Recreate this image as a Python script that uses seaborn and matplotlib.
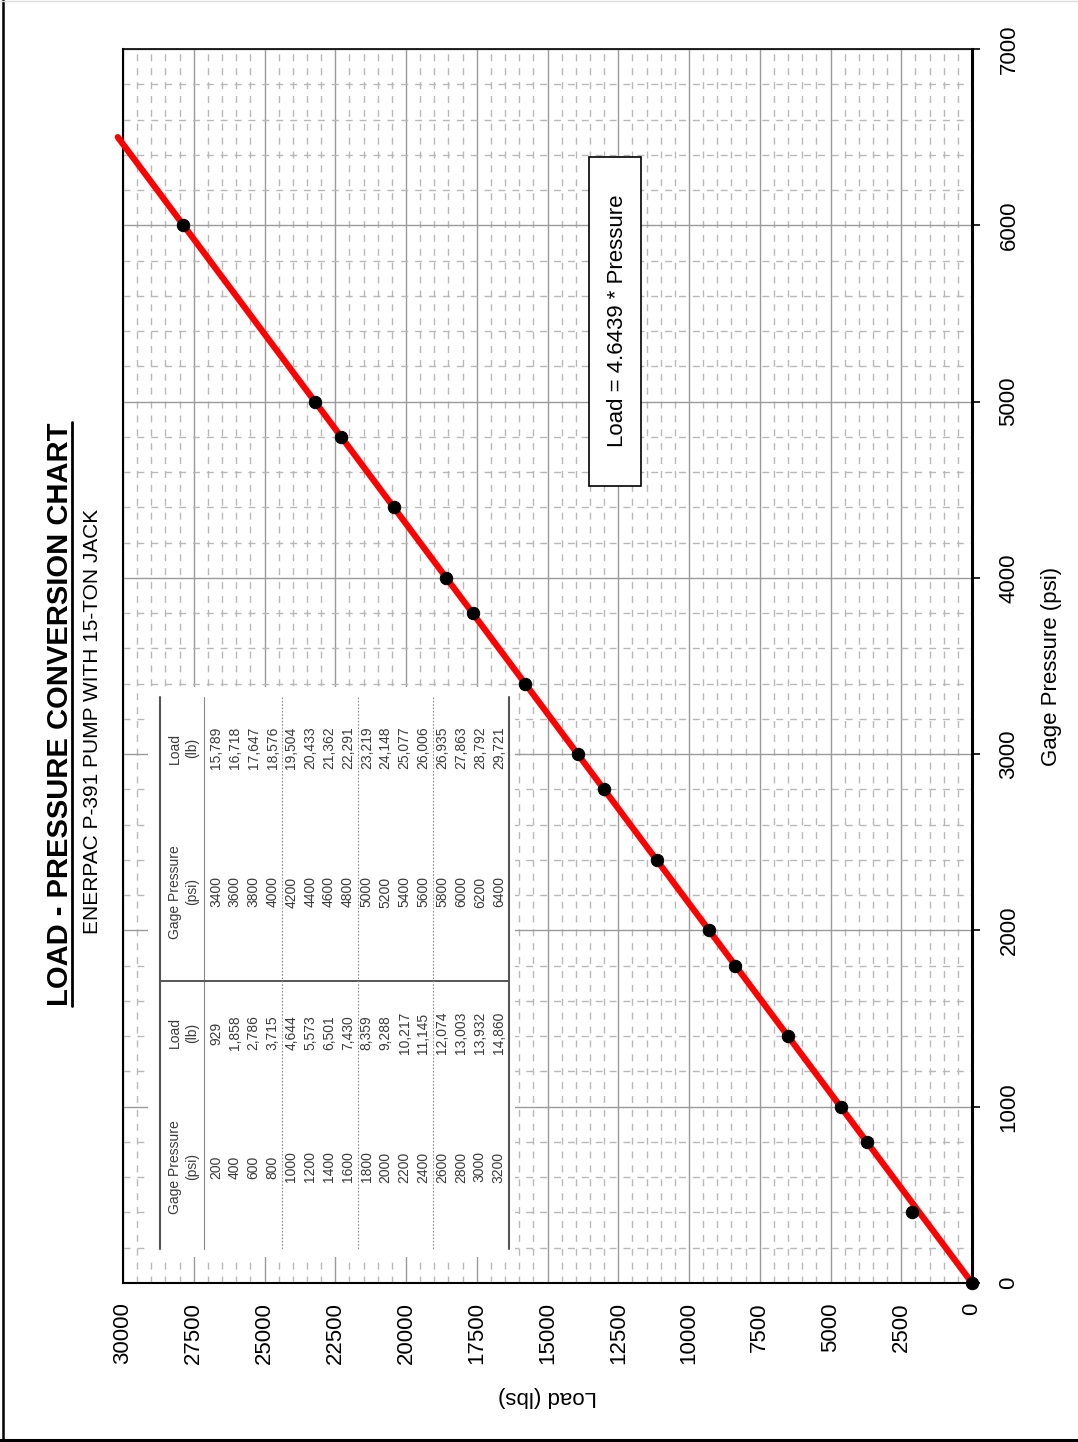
import matplotlib
matplotlib.use("Agg")
import matplotlib.pyplot as plt
import seaborn as sns
from matplotlib.lines import Line2D
from matplotlib.patches import Rectangle
from matplotlib.ticker import MultipleLocator

# measured points (gage pressure psi -> load lb)
pressure = [0, 400, 800, 1000, 1400, 1800, 2000, 2400, 2800, 3000,
            3400, 3800, 4000, 4400, 4800, 5000, 6000]
load = [0, 2120, 3715, 4644, 6501, 8359, 9288, 11145, 13003, 13932,
        15789, 17647, 18576, 20433, 22291, 23219, 27863]

# fit line: Load = 4.6439 * Pressure
slope = 4.6439
fit_pressure = [0, 6500]

# conversion table
table_p1 = ["200", "400", "600", "800", "1000", "1200", "1400", "1600",
            "1800", "2000", "2200", "2400", "2600", "2800", "3000", "3200"]
table_l1 = ["929", "1,858", "2,786", "3,715", "4,644", "5,573", "6,501", "7,430",
            "8,359", "9,288", "10,217", "11,145", "12,074", "13,003", "13,932", "14,860"]
table_p2 = ["3400", "3600", "3800", "4000", "4200", "4400", "4600", "4800",
            "5000", "5200", "5400", "5600", "5800", "6000", "6200", "6400"]
table_l2 = ["15,789", "16,718", "17,647", "18,576", "19,504", "20,433", "21,362", "22,291",
            "23,219", "24,148", "25,077", "26,006", "26,935", "27,863", "28,792", "29,721"]

W, H = 1078, 1442

sns.set_theme(style="white", rc={"text.color": "black", "axes.labelcolor": "black",
                                 "xtick.color": "black", "ytick.color": "black",
                                 "axes.edgecolor": "black"})
plt.rcParams["font.family"] = ["Liberation Sans", "DejaVu Sans"]

fig = plt.figure(figsize=(W / 100, H / 100), dpi=100)


def fx(x):
    return x / W


def fy(y):
    return 1 - y / H


# the chart is laid out turned on its side: load runs right-to-left, pressure upward
ax = fig.add_axes([fx(123), fy(1283), (972 - 123) / W, (1283 - 49) / H])

fit_load = [slope * p for p in fit_pressure]
sns.lineplot(x=fit_load, y=fit_pressure, color="#ff0000", lw=4.5, sort=False,
             clip_on=False, zorder=3, ax=ax)
sns.scatterplot(x=load, y=pressure, color="black", edgecolor="black", s=80,
                clip_on=False, zorder=4, ax=ax)

ax.set_xlim(30000, 0)
ax.set_ylim(0, 7000)
ax.xaxis.set_major_locator(MultipleLocator(2500))
ax.xaxis.set_minor_locator(MultipleLocator(500))
ax.yaxis.set_major_locator(MultipleLocator(1000))
ax.yaxis.set_minor_locator(MultipleLocator(200))
ax.set_axisbelow(True)
ax.grid(which="major", color="#9a9a9a", lw=1.0, ls="-")
ax.grid(which="minor", color="#b8b8b8", lw=1.0, ls=(0, (5, 5)))

ax.yaxis.tick_right()
ax.tick_params(which="minor", length=0)
ax.tick_params(axis="y", which="major", direction="out", length=6, width=1.2,
               labelsize=16, pad=13, labelrotation=90)
ax.tick_params(axis="x", which="major", direction="out", length=6, width=1.2,
               labelsize=16, pad=8, labelrotation=90)
for lab in ax.get_yticklabels():
    lab.set_va("center")

for side, w in [("left", 1.5), ("bottom", 1.5), ("right", 2.2), ("top", 1.2)]:
    ax.spines[side].set_visible(True)
    ax.spines[side].set_color("black")
    ax.spines[side].set_linewidth(w)

ax.set_xlabel("Load (lbs)", fontsize=16, rotation=180)
ax.xaxis.set_label_coords(0.5, -0.0916)
ax.xaxis.label.set_va("center")
ax.yaxis.set_label_position("right")
ax.set_ylabel("Gage Pressure (psi)", fontsize=16, rotation=90)
ax.yaxis.set_label_coords(1.094, 0.5)
ax.yaxis.label.set_va("center")
ax.yaxis.label.set_ha("center")

# equation box
fig.add_artist(Rectangle((fx(589), fy(486)), (641 - 589) / W, (486 - 157) / H,
                         transform=fig.transFigure, fc="white", ec="black", lw=1.2, zorder=5))
fig.text(fx(623), fy(321), "Load = 4.6439 * Pressure", rotation=90, rotation_mode="anchor",
         ha="center", va="baseline", fontsize=16, zorder=6)

# table
fig.add_artist(Rectangle((fx(148), fy(1257)), (515 - 148) / W, (1257 - 687) / H,
                         transform=fig.transFigure, fc="white", ec="none", zorder=5))


def fline(x0, y0, x1, y1, **kw):
    fig.add_artist(Line2D([fx(x0), fx(x1)], [fy(y0), fy(y1)],
                          transform=fig.transFigure, zorder=6, **kw))


fline(160, 697, 160, 1249, color="#555555", lw=1.5)
fline(509, 697, 509, 1249, color="#555555", lw=1.5)
fline(204, 697, 204, 1249, color="#888888", lw=0.8)
fline(160, 981, 509, 981, color="#555555", lw=1.4)
for xs in [282, 358, 433]:
    fline(xs, 697, xs, 1249, color="#8a8a8a", lw=0.8, ls=(0, (1.5, 1.5)))

tcol = "#3a3a3a"
col_y = [1167, 1033, 892, 748]
headers = [("Gage Pressure", "(psi)"), ("Load", "(lb)"), ("Gage Pressure", "(psi)"), ("Load", "(lb)")]
for cy, (h1, h2) in zip(col_y, headers):
    fig.text(fx(179), fy(cy), h1, rotation=90, rotation_mode="anchor", ha="center",
             va="baseline", fontsize=10, color=tcol, zorder=7)
    fig.text(fx(196), fy(cy), h2, rotation=90, rotation_mode="anchor", ha="center",
             va="baseline", fontsize=10, color=tcol, zorder=7)

for cy, values in zip(col_y, [table_p1, table_l1, table_p2, table_l2]):
    for i, v in enumerate(values):
        bx = 220 + i * 18.85
        fig.text(fx(bx), fy(cy), v, rotation=90, rotation_mode="anchor", ha="center",
                 va="baseline", fontsize=10, color=tcol, zorder=7)

# titles
title = fig.text(fx(68), fy(714), "LOAD - PRESSURE CONVERSION CHART", rotation=90,
                 rotation_mode="anchor", ha="center", va="baseline", fontsize=21,
                 fontweight="bold")
fig.text(fx(98), fy(721), "ENERPAC P-391 PUMP WITH 15-TON JACK", rotation=90,
         rotation_mode="anchor", ha="center", va="baseline", fontsize=15)

# page frame
fline(3, 0, 3, 1442, color="black", lw=1.8)
fline(0, 1440, 1078, 1440, color="black", lw=2.2)
fline(0, 0.5, 1078, 0.5, color="#dddddd", lw=1.0)

fig.canvas.draw()
bb = title.get_window_extent()
fig.add_artist(Line2D([fx(72), fx(72)], [bb.y0 / H, bb.y1 / H], transform=fig.transFigure,
                      color="black", lw=2.0))

fig.savefig("out.png", dpi=100)
